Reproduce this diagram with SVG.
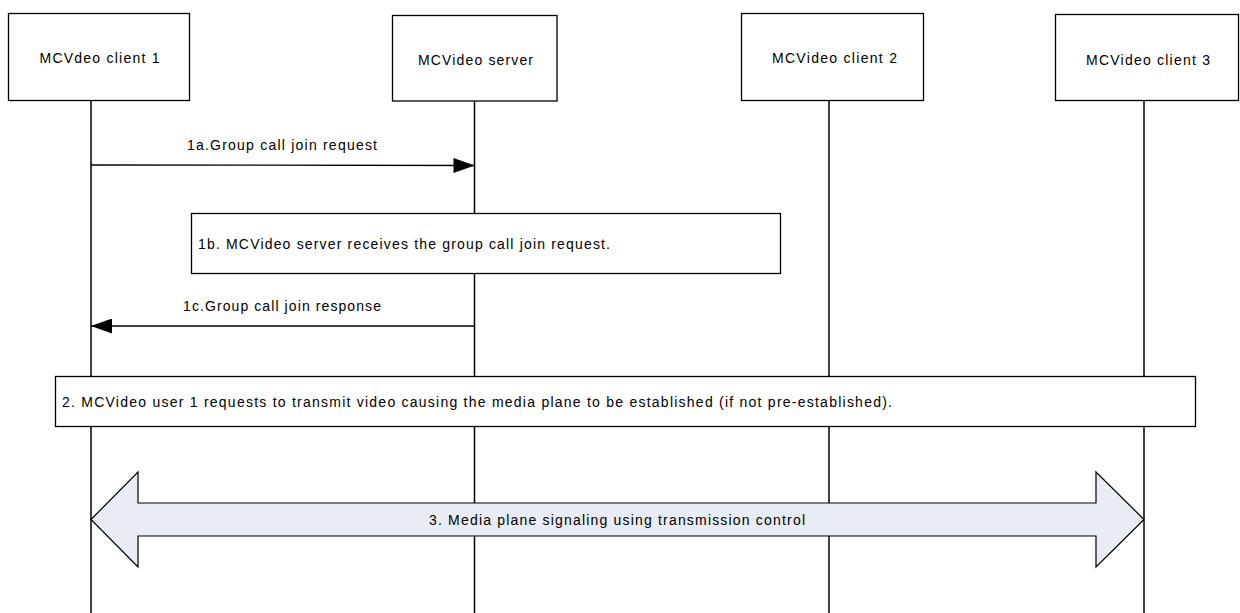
<svg xmlns="http://www.w3.org/2000/svg" width="1240" height="613" viewBox="0 0 1240 613">
<style>
.box{fill:#fff;stroke:#000;stroke-width:1.3}
.life{stroke:#000;stroke-width:1.5;fill:none}
.msg{stroke:#000;stroke-width:1.3;fill:none}
.t{font-family:"Liberation Sans",Arial,sans-serif;font-size:14px;fill:#000}
.big{fill:#E8ECF4;stroke:#000;stroke-width:1.2}
</style>
<defs>
<marker id="ah" viewBox="0 0 21 15" refX="21" refY="7.5" markerWidth="21" markerHeight="15" markerUnits="userSpaceOnUse" orient="auto">
<path d="M0,0 L21,7.5 L0,15 Z" fill="#000"/>
</marker>
</defs>
<rect width="1240" height="613" fill="#fff"/>
<g id="lifelines">
<line class="life" x1="91" y1="100" x2="91" y2="613"/>
<line class="life" x1="474.5" y1="101" x2="474.5" y2="613"/>
<line class="life" x1="829" y1="100" x2="829" y2="613"/>
<line class="life" x1="1144" y1="100" x2="1144" y2="613"/>
</g>
<g id="client1">
<rect class="box" x="8.5" y="13.5" width="181" height="87"/>
<text class="t" x="39.5" y="63" textLength="120" lengthAdjust="spacing">MCVdeo client 1</text>
</g>
<g id="server">
<rect class="box" x="392.5" y="15.5" width="164.5" height="85.5"/>
<text class="t" x="418" y="65" textLength="115" lengthAdjust="spacing">MCVideo server</text>
</g>
<g id="client2">
<rect class="box" x="741.5" y="13.5" width="182" height="87"/>
<text class="t" x="772" y="63" textLength="125" lengthAdjust="spacing">MCVideo client 2</text>
</g>
<g id="client3">
<rect class="box" x="1055.5" y="14.5" width="183" height="86"/>
<text class="t" x="1086" y="65" textLength="124" lengthAdjust="spacing">MCVideo client 3</text>
</g>
<g id="connectors">
<line class="msg" x1="91" y1="165" x2="474.5" y2="165.5" marker-end="url(#ah)"/>
<text class="t" x="187" y="150" textLength="190" lengthAdjust="spacing">1a.Group call join request</text>
<line class="msg" x1="474.5" y1="326" x2="91" y2="326" marker-end="url(#ah)"/>
<text class="t" x="183" y="311" textLength="198" lengthAdjust="spacing">1c.Group call join response</text>
</g>
<g id="step1b">
<rect class="box" x="191.5" y="213.5" width="589" height="60"/>
<text class="t" x="198" y="249" textLength="412" lengthAdjust="spacing">1b. MCVideo server receives the group call join request.</text>
</g>
<g id="step2">
<rect class="box" x="55.5" y="376.5" width="1140" height="50"/>
<text class="t" x="62" y="407" textLength="830" lengthAdjust="spacing">2. MCVideo user 1 requests to transmit video causing the media plane to be established (if not pre-established).</text>
</g>
<g id="step3">
<path class="big" d="M91,519.5 L138,472 L138,503 L1096,503 L1096,472 L1144,519.5 L1096,567 L1096,536 L138,536 L138,567 Z"/>
<text class="t" x="429" y="525" textLength="376" lengthAdjust="spacing">3. Media plane signaling using transmission control</text>
</g>
</svg>
